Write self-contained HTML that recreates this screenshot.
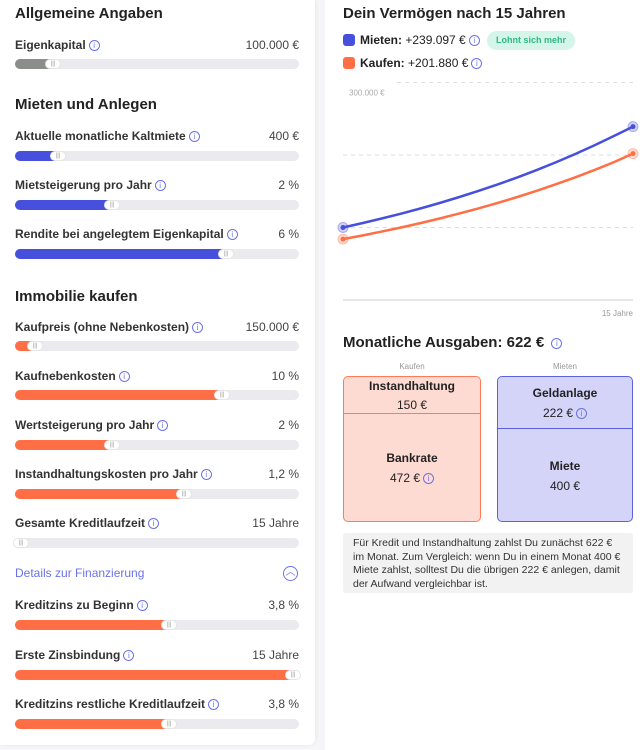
<!DOCTYPE html>
<html><head><meta charset="utf-8">
<style>
*{box-sizing:border-box;margin:0;padding:0}
body{width:643px;height:750px;background:#f6f6f8;font-family:"Liberation Sans",sans-serif;color:#222;position:relative;overflow:hidden}
.card{position:absolute;left:0;top:0;width:315px;height:745px;background:#fff;border-radius:0 0 6px 0;box-shadow:1px 0 4px rgba(0,0,0,.06)}
.right{position:absolute;left:325px;top:0;width:318px;height:750px;background:#fff}
.abs{position:absolute}
h2{position:absolute;font-size:15px;font-weight:bold;color:#222}
.lbl{position:absolute;left:15px;font-size:12px;font-weight:bold;color:#333}
.val{position:absolute;font-size:12px;color:#444;text-align:right}
.info{display:inline-block;width:11px;height:11px;border:1px solid #6b72e6;border-radius:50%;color:#6b72e6;font-size:8px;line-height:9px;text-align:center;font-weight:normal;vertical-align:middle;margin-left:3px}
.track{position:absolute;left:15px;width:284px;height:10px;border-radius:5px;background:#ebebef}
.fill{position:absolute;left:0;top:0;height:10px;border-radius:5px}
.thumb{position:absolute;top:0;width:16px;height:10px;border-radius:5px;background:#fff;border:1px solid rgba(0,0,0,.1);font-size:6px;line-height:8px;text-align:center;color:#999}
</style></head><body>
<div class="card"></div>
<div class="right"></div>

<h2 style="left:15px;top:5px">Allgemeine Angaben</h2>
<h2 style="left:15px;top:96px">Mieten und Anlegen</h2>
<h2 style="left:15px;top:288px">Immobilie kaufen</h2>
<div class="abs" style="left:15px;top:566px;font-size:12px;color:#6b72e6">Details zur Finanzierung</div>
<div class="abs" style="left:283px;top:566px;width:15px;height:15px;border:1.5px solid #6b72e6;border-radius:50%;color:#6b72e6;font-size:10px;line-height:11px;text-align:center">︿</div>

<div id="sliders"></div>

<h2 style="left:343px;top:5px">Dein Vermögen nach 15 Jahren</h2>
<div class="abs" style="left:343px;top:34px;width:12px;height:12px;border-radius:3px;background:#4650dd"></div>
<div class="abs" style="left:360px;top:33px;font-size:12px"><b>Mieten:</b> +239.097 €<span class="info">i</span></div>
<div class="abs" style="left:487px;top:31px;width:88px;height:19px;border-radius:10px;background:#d5f5ea;color:#2fb985;font-size:9px;font-weight:bold;line-height:19px;text-align:center">Lohnt sich mehr</div>
<div class="abs" style="left:343px;top:57px;width:12px;height:12px;border-radius:3px;background:#ff6e45"></div>
<div class="abs" style="left:360px;top:56px;font-size:12px"><b>Kaufen:</b> +201.880 €<span class="info">i</span></div>

<svg id="chart" class="abs" style="left:0;top:0" width="643" height="330"></svg>

<h2 style="left:343px;top:334px">Monatliche Ausgaben: 622 € <span class="info" style="font-size:8px">i</span></h2>
<div class="abs" style="left:343px;top:362px;width:138px;text-align:center;font-size:8px;color:#999">Kaufen</div>
<div class="abs" style="left:497px;top:362px;width:136px;text-align:center;font-size:8px;color:#999">Mieten</div>

<div class="abs" style="left:343px;top:376px;width:138px;height:146px;border:1.5px solid #ff7a55;border-radius:5px;background:#fddbd2;overflow:hidden">
 <div style="height:37px;border-bottom:1.5px solid #ff7a55;text-align:center;font-size:12px;padding-top:2px"><b>Instandhaltung</b><div style="margin-top:5px">150 €</div></div>
 <div style="text-align:center;font-size:12px;padding-top:37px"><b>Bankrate</b><div style="margin-top:6px">472 €<span class="info">i</span></div></div>
</div>
<div class="abs" style="left:497px;top:376px;width:136px;height:146px;border:1.5px solid #5b62e0;border-radius:5px;background:#d3d4f8;overflow:hidden">
 <div style="height:52px;border-bottom:1.5px solid #5b62e0;text-align:center;font-size:12px;padding-top:9px"><b>Geldanlage</b><div style="margin-top:6px">222 €<span class="info">i</span></div></div>
 <div style="text-align:center;font-size:12px;padding-top:30px"><b>Miete</b><div style="margin-top:6px">400 €</div></div>
</div>
<div class="abs" style="left:343px;top:533px;width:290px;height:60px;background:#f2f2f3;border-radius:3px;padding:4px 10px;font-size:10.5px;line-height:13.5px;color:#333">Für Kredit und Instandhaltung zahlst Du zunächst 622 € im Monat. Zum Vergleich: wenn Du in einem Monat 400 € Miete zahlst, solltest Du die übrigen 222 € anlegen, damit der Aufwand vergleichbar ist.</div>

<script>
const years=[0,1,2,3,4,5,6,7,8,9,10,11,12,13,14,15];
const mietenValues=[100000,106000,112400,119100,126200,133800,141900,150400,159400,168900,179100,189800,201200,213300,226100,239097];
const kaufenValues=[84000,89000,94400,100000,106000,112400,119200,126300,133900,141900,150400,159500,169000,179200,190000,201880];
const gridValues=[100000,200000,300000];
const tickLabel="300.000 €";
const xLabel="15 Jahre";

const svg=document.getElementById('chart');
const NS='http://www.w3.org/2000/svg';
const x=t=>343+(t-0)/15*290;
const y=v=>300-v/100000*72.5;
function mk(tag,attrs){const e=document.createElementNS(NS,tag);for(const k in attrs)e.setAttribute(k,attrs[k]);svg.appendChild(e);return e;}
gridValues.forEach((g,i)=>{
 const l=mk('line',{x1:i==2?397:343,x2:633,y1:y(g),y2:y(g),stroke:'#ddd','stroke-dasharray':'4,4'});
 
 
});
const base=mk('line',{x1:343,x2:633,y1:300,y2:300,stroke:'#ddd','stroke-width':1.5});


const tl=mk('text',{x:349,y:y(300000)+13,'font-size':8,fill:'#aaa','font-family':'Liberation Sans'});tl.textContent=tickLabel;


const xl=mk('text',{x:633,y:316,'font-size':8,fill:'#999','text-anchor':'end','font-family':'Liberation Sans'});xl.textContent=xLabel;


[[mietenValues,'#4650dd','mieten'],[kaufenValues,'#ff6e45','kaufen']].forEach(([vals,c,n])=>{
 const p=mk('polyline',{points:vals.map((v,i)=>x(years[i])+','+y(v)).join(' '),fill:'none',stroke:c,'stroke-width':2.5,'stroke-linejoin':'round'});
 
 
 [0,vals.length-1].forEach(i=>{
  const h=mk('circle',{cx:x(years[i]),cy:y(vals[i]),r:5,fill:c,'fill-opacity':0.25,stroke:c,'stroke-opacity':0.4});
  
  
  const d=mk('circle',{cx:x(years[i]),cy:y(vals[i]),r:2.5,fill:c});
  
  
 });
});

const sl=[
 ['Eigenkapital','100.000 €',45,59,53,'#8a8d8a'],
 ['Aktuelle monatliche Kaltmiete','400 €',136,151,58,'#4650dd'],
 ['Mietsteigerung pro Jahr','2 %',185,200,112,'#4650dd'],
 ['Rendite bei angelegtem Eigenkapital','6 %',234,249,226,'#4650dd'],
 ['Kaufpreis (ohne Nebenkosten)','150.000 €',327,341,35,'#ff6e45'],
 ['Kaufnebenkosten','10 %',376,390,222,'#ff6e45'],
 ['Wertsteigerung pro Jahr','2 %',425,440,112,'#ff6e45'],
 ['Instandhaltungskosten pro Jahr','1,2 %',474,489,184,'#ff6e45'],
 ['Gesamte Kreditlaufzeit','15 Jahre',523,538,21,'#ff6e45'],
 ['Kreditzins zu Beginn','3,8 %',605,620,169,'#ff6e45'],
 ['Erste Zinsbindung','15 Jahre',655,670,293,'#ff6e45'],
 ['Kreditzins restliche Kreditlaufzeit','3,8 %',704,719,169,'#ff6e45']
];
const cont=document.getElementById('sliders');
sl.forEach(s=>{
 const slug=s[0].toLowerCase().replace(/[^a-z]+/g,'-').replace(/-$/,'');
 const l=document.createElement('div');l.className='lbl';l.style.top=(s[2]-7)+'px';
 l.innerHTML=s[0]+'<span class="info">i</span>';
 
 
 const v=document.createElement('div');v.className='val';v.style.top=(s[2]-7)+'px';v.textContent=s[1];
 v.style.left='199px';v.style.width='100px';
 
 
 const t=document.createElement('div');t.className='track';t.style.top=s[3]+'px';
 
 
 const f=document.createElement('div');f.className='fill';f.style.width=(s[4]-15+6)+'px';f.style.background=s[5];
 const th=document.createElement('div');th.className='thumb';th.style.left=(s[4]-15-8)+'px';th.textContent='|||';
 
 
 t.appendChild(f);t.appendChild(th);
 cont.appendChild(l);cont.appendChild(v);cont.appendChild(t);
});
</script>
</body></html>
